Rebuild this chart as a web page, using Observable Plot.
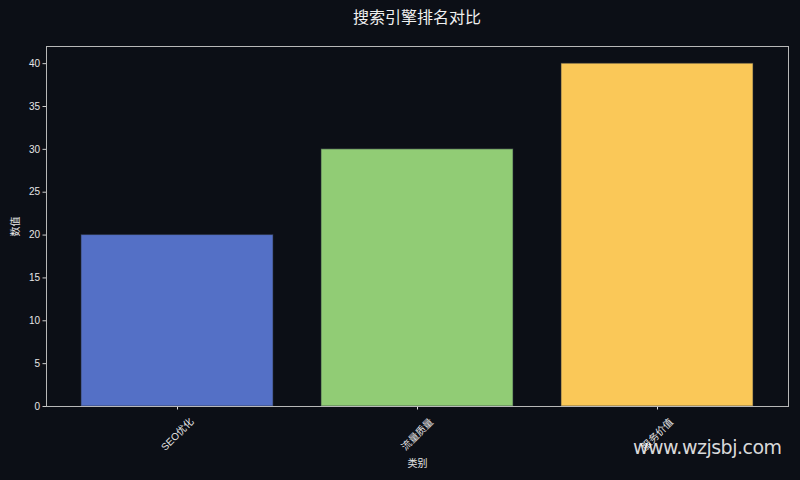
<!DOCTYPE html>
<html>
<head>
<meta charset="utf-8">
<script src="https://cdn.jsdelivr.net/npm/d3@7"></script>
<script src="https://cdn.jsdelivr.net/npm/@observablehq/plot@0.6"></script>
<style>
  html, body { margin: 0; padding: 0; background: #0c0f16; }
  body { width: 800px; height: 480px; position: relative; overflow: hidden;
         font-family: "Liberation Sans", "Noto Sans CJK SC", sans-serif; color: #e6e6e6; }
  #title { height: 36px; line-height: 36px; box-sizing: border-box; padding-left: 46px; padding-right: 12px;
           text-align: center; font-size: 16px; color: #f0f0f0; }
  #wm { position: absolute; left: 633px; top: 436px; font-size: 19px; color: rgba(255,255,255,0.85);
        font-family: "DejaVu Sans", sans-serif; letter-spacing: -0.5px; }
</style>
</head>
<body>
<div id="title">搜索引擎排名对比</div>
<div id="chart"></div>
<div id="wm">www.wzjsbj.com</div>
<script>
const categories = ["SEO优化", "流量质量", "服务价值"];
const values = [20, 30, 40];
const colors = ["#5470c6", "#91cc75", "#fac858"];
const yTicks = [0, 5, 10, 15, 20, 25, 30, 35, 40];
const xLabel = "类别";
const yLabel = "数值";

const data = categories.map((c, i) => ({ category: c, value: values[i], color: colors[i] }));
const font = "'Liberation Sans', 'Noto Sans CJK SC', sans-serif";

const plot = Plot.plot({
  width: 800,
  height: 444,
  marginTop: 10,
  marginBottom: 74,
  marginLeft: 46,
  marginRight: 12,
  style: { background: "#0c0f16", color: "#e6e6e6", fontSize: "10px", fontFamily: font },
  x: { domain: categories, paddingInner: 0.2, paddingOuter: 0.14, label: xLabel },
  y: { domain: [0, 42], ticks: yTicks, label: yLabel },
  marks: [
    Plot.barY(data, { x: "category", y: "value", fill: "color",
                      stroke: "#2a2f3a", strokeOpacity: 0.6, strokeWidth: 1 }),
    Plot.axisY({ ticks: yTicks, tickSize: 3.5, tickPadding: 3, label: yLabel, labelAnchor: "center",
                 labelArrow: "none", labelOffset: 35, stroke: "#cccccc", fill: "#e6e6e6" }),
    Plot.axisX({ tickSize: 3.5, tickFormat: () => "", label: xLabel, labelAnchor: "center",
                 labelArrow: "none", labelOffset: 60, stroke: "#dddddd", fill: "#e6e6e6" }),
    Plot.text(categories, { x: d => d, frameAnchor: "bottom", dy: 28, rotate: -45,
                            textAnchor: "middle", lineAnchor: "middle", fill: "#e6e6e6", fontSize: 10 }),
    Plot.frame({ stroke: "#b8b8b8", strokeWidth: 1 })
  ]
});
document.getElementById("chart").appendChild(plot);
</script>
</body>
</html>
